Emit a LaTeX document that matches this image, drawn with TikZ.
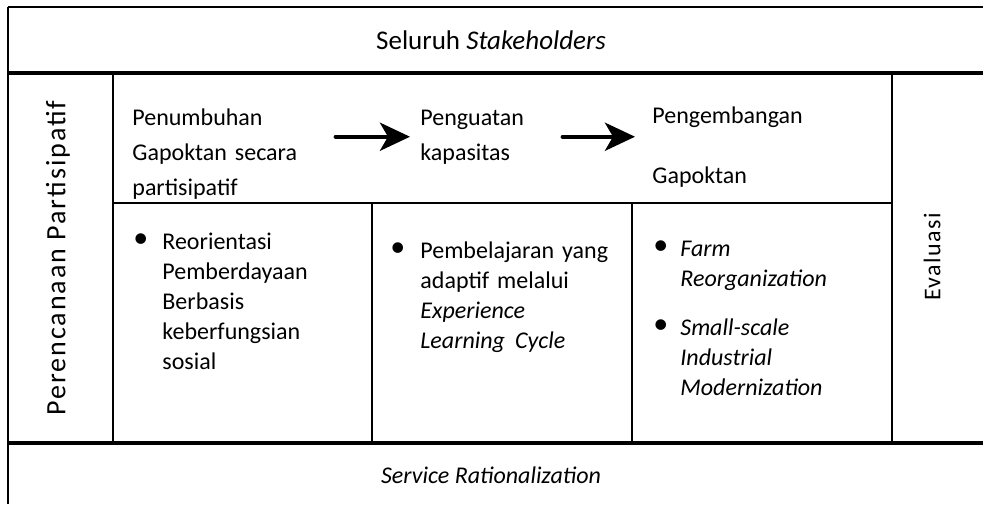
\documentclass[tikz,border=0pt]{standalone}
\usepackage{fontspec}
\setmainfont{Carlito}
\usetikzlibrary{arrows.meta}

\tikzset{
  thinline/.style={line width=0.8pt},
  thickline/.style={line width=1.6pt},
  stage/.style={anchor=base west, inner sep=0pt, align=left, font=\fontsize{12}{17.5}\selectfont},
  listtext/.style={anchor=base west, inner sep=0pt, align=left, text width=100pt, font=\fontsize{12}{15}\selectfont},
  dot/.style={anchor=base west, inner sep=0pt, yshift=1pt, font=\fontsize{15}{15}\selectfont},
  flow/.style={line width=2.2pt, line cap=round, -{Stealth[length=15pt,width=14pt,inset=4pt]}},
  side/.style={rotate=90, inner sep=0pt},
}

\begin{document}
\begin{tikzpicture}[x=0.5pt,y=-0.5pt,font=\fontsize{12}{15}\selectfont]
  \useasboundingbox (0,0) rectangle (983,504);
  % frame and grid lines
  \draw[line width=0.6pt] (8,7) -- (983,7);
  \draw[thinline] (8,7) -- (8,504);
  \draw[thickline] (8,73) -- (983,73);
  \draw[thickline] (8,443) -- (983,443);
  \draw[thinline] (113,73) -- (113,443) (892,73) -- (892,443);
  \draw[thinline] (113,203) -- (892,203);
  \draw[thinline] (372,203) -- (372,443) (632,203) -- (632,443);

  % top and bottom rows, side columns
  \node[font=\fontsize{13.5}{15}\selectfont] (all) at (491,40) {Seluruh \textit{Stakeholders}};
  \node (serv) at (491,475) {\textit{Service Rationalization}};
  \node[side, font=\fontsize{14}{15}\selectfont\addfontfeature{LetterSpace=7}] (plan) at (58,258) {Perencanaan Partisipatif};
  \node[side, font=\fontsize{12}{15}\selectfont\addfontfeature{LetterSpace=6}] (eval) at (932,257) {Evaluasi};

  % stages
  \begin{scope}
    \clip (113,73) rectangle (372,198);
    \node[stage, text width=101.5pt] (tumbuh) at (132,125) {Penumbuhan\\Gapoktan secara\\partisipatif};
  \end{scope}
  \node[stage, text width=71pt] (kuat) at (420,125) {Penguatan\\kapasitas};
  \node[stage, text width=100pt] (kembang) at (652,123) {Pengembangan\\[12.5pt]Gapoktan};
  \draw[flow, shorten >=5pt] (tumbuh.east |- kuat.center) -- (kuat.west);
  \draw[flow, shorten >=8.5pt] (kuat.east) -- (kuat.east -| kembang.west);

  % bullet lists
  \node[dot] (d1) at (133,249) {\textbullet};
  \node[listtext] (l1) at (162,249) {Reorientasi\\Pemberdayaan\\Berbasis\\keberfungsian\\sosial};
  \node[dot] (d2) at (390,258) {\textbullet};
  \node[listtext] (l2) at (420,258) {Pembelajaran yang\\adaptif melalui\\\textit{Experience}\\\textit{Learning\hspace{5pt}Cycle}};
  \node[dot] (d3) at (653,256) {\textbullet};
  \node[listtext] (l3) at (680,256) {\textit{Farm}\\\textit{Reorganization}};
  \node[dot] (d4) at (653,335) {\textbullet};
  \node[listtext] (l4) at (680,335) {\textit{Small-scale}\\\textit{Industrial}\\\textit{Modernization}};
\end{tikzpicture}
\end{document}
